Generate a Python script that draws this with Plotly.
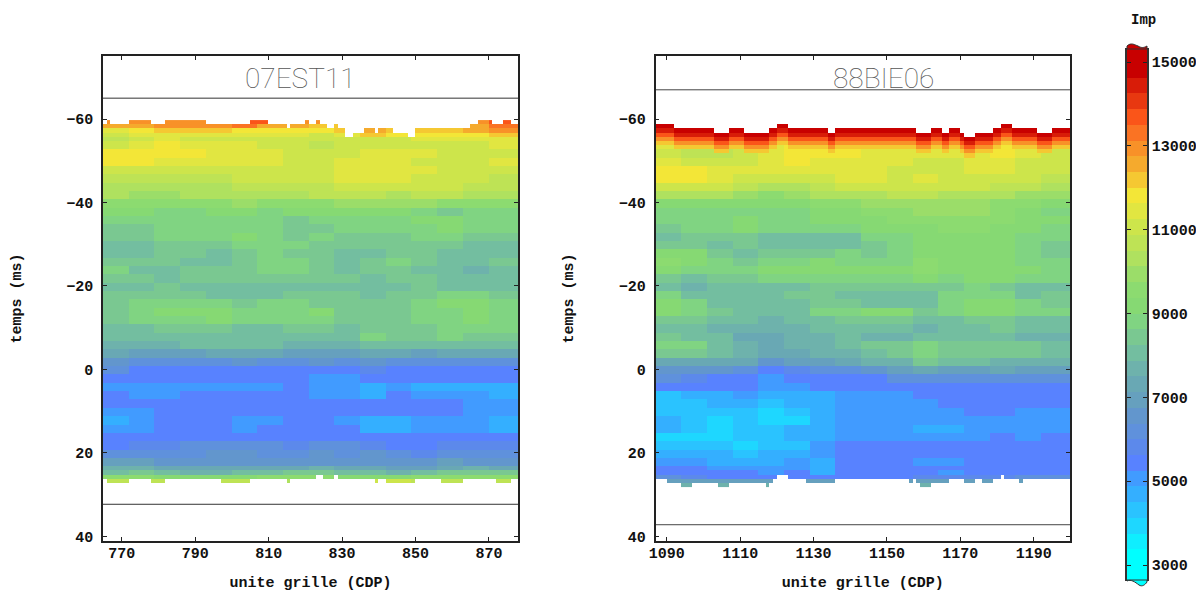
import numpy as np
import plotly.graph_objects as go

W, H = 1196, 592

# Colour bands of the Imp scale (3000..15000, 32 bands)
BAND_COLORS = [
    (0,255,255),(15,238,255),(30,215,255),(42,195,255),(52,175,255),(65,155,255),(88,130,255),
    (92,137,235),(95,145,220),(98,150,205),(102,160,190),(105,168,180),(110,178,172),(115,190,160),
    (122,200,145),(128,212,130),(134,217,115),(140,219,112),(155,221,105),(175,225,95),(190,227,85),
    (205,229,75),(225,230,65),(243,230,55),(245,200,50),(245,170,45),(248,145,40),(250,115,35),
    (250,85,25),(232,56,16),(216,28,8),(200,0,0)]
Z_MIN, Z_MAX = 3000, 15000
CBAR_TICKS = [3000, 5000, 7000, 9000, 11000, 13000, 15000]

# Imp / 100, one list per block row, 16 blocks across the section
IMP_07EST11 = [
 [130,128,130,130,130,136,136,128,128,128,128,128,128,128,130,138],
 [124,124,128,128,130,134,124,126,122,122,122,126,124,124,126,134],
 [116,118,120,120,120,118,118,118,119,120,126,123,121,121,124,128],
 [110,114,116,116,114,114,114,114,112,114,123,118,118,117,118,122],
 [108,110,113,112,112,112,112,112,110,110,112,112,114,114,116,116],
 [110,114,117,116,114,114,112,110,106,110,112,112,112,112,112,114],
 [118,118,118,118,116,114,113,112,110,112,113,113,113,112,112,112],
 [119,118,116,116,115,114,114,112,112,114,114,114,112,112,112,113],
 [112,110,110,110,110,112,112,112,112,114,116,116,114,112,111,112],
 [106,106,105,106,107,110,110,112,110,113,114,114,112,112,110,108],
 [103,102,102,102,104,106,107,108,108,110,110,110,111,111,106,105],
 [102,100,100,102,102,103,103,104,105,106,106,104,106,106,104,102],
 [96,94,95,96,97,98,95,97,97,98,100,100,99,96,96,95],
 [90,90,88,88,90,90,88,90,90,92,90,90,88,86,88,88],
 [87,88,88,87,89,87,87,85,88,88,89,88,91,91,89,87],
 [85,85,87,87,88,89,87,83,85,87,87,87,89,91,89,87],
 [83,85,87,87,89,91,87,83,87,85,85,85,87,87,85,83],
 [81,81,85,85,85,87,87,87,85,83,83,85,85,83,81,79],
 [79,81,85,83,81,85,87,85,83,79,81,85,85,81,79,81],
 [83,83,83,81,79,83,87,87,85,79,83,87,85,79,81,83],
 [87,81,79,83,85,85,87,87,85,81,83,83,81,79,77,81],
 [83,83,81,85,83,85,85,85,83,83,81,83,83,79,79,79],
 [79,81,83,81,81,79,79,81,81,81,79,81,83,81,79,81],
 [83,83,83,83,81,79,79,83,83,83,81,83,83,87,87,83],
 [85,87,89,89,87,85,87,87,85,83,83,83,87,91,91,87],
 [85,89,92,92,92,87,87,89,91,85,83,85,87,89,91,89],
 [85,87,89,89,91,87,87,87,87,83,85,85,87,89,92,89],
 [81,81,83,83,83,81,81,83,83,81,83,83,85,87,89,87],
 [79,79,81,81,79,79,79,79,81,79,87,83,85,87,85,85],
 [77,77,77,79,79,79,79,77,77,77,79,79,79,81,81,81],
 [72,70,70,70,72,74,72,70,70,70,72,72,70,72,72,72],
 [66,62,62,62,62,64,62,62,66,62,64,62,60,60,60,62],
 [60,56,56,56,56,56,56,56,56,56,58,56,56,56,56,56],
 [54,54,54,54,54,54,54,54,50,50,54,54,54,54,54,54],
 [50,50,50,50,50,50,50,54,50,50,47,50,47,46,47,46],
 [54,50,50,54,54,54,54,54,50,50,48,54,50,50,50,48],
 [54,54,54,54,54,54,56,54,54,54,54,54,54,54,50,50],
 [50,50,54,54,54,54,54,54,54,54,54,54,54,54,50,50],
 [48,50,54,54,54,50,50,54,54,50,47,48,50,50,50,47],
 [50,50,54,54,54,50,54,54,54,54,48,48,50,50,50,48],
 [54,54,54,56,56,54,54,54,56,54,54,54,54,54,54,54],
 [56,58,58,60,60,60,60,58,60,60,58,56,56,58,58,58],
 [62,62,62,62,64,64,62,62,66,62,64,62,58,62,62,62],
 [68,68,66,66,65,66,66,66,66,66,66,64,64,68,66,66],
 [76,78,72,72,72,72,74,74,76,72,72,70,70,74,76,74],
 [82,84,80,78,76,80,82,84,84,80,80,78,80,84,84,84],
 [96,94,92,92,90,92,94,94,94,92,92,92,94,96,96,96],
 [108,108,108,108,108,108,104,104,104,104,112,112,108,108,108,108],
 [104,104,104,104,104,104,104,104,104,104,104,104,104,104,104,104],
]
IMP_88BIE06 = [
 [115]*16,[115]*16,[115]*16,[115]*16,[115]*16,
 [116,110,110,114,116,118,118,118,118,118,118,118,118,118,116,116],
 [112,106,106,112,114,118,118,118,116,116,116,116,116,118,114,112],
 [116,110,110,112,114,118,114,116,116,114,112,112,116,116,112,110],
 [118,118,114,114,114,114,114,114,114,112,112,112,114,114,112,110],
 [118,118,114,112,110,110,112,114,114,112,114,110,112,112,110,108],
 [112,112,112,108,104,104,108,110,110,110,112,110,110,108,106,104],
 [104,102,102,100,96,100,104,104,104,108,106,104,104,102,100,98],
 [92,92,92,92,90,92,94,96,98,100,100,100,100,96,94,92],
 [88,88,88,88,88,88,90,92,94,96,98,98,98,94,90,88],
 [87,89,89,90,89,89,90,90,92,94,96,97,96,94,92,90],
 [83,87,87,90,87,89,89,89,90,90,92,94,96,92,90,89],
 [81,83,83,85,81,79,81,81,87,87,90,92,92,90,89,87],
 [85,83,81,83,79,81,79,81,85,87,90,92,92,90,87,83],
 [93,90,85,81,83,85,85,87,85,87,90,92,92,90,87,83],
 [95,90,87,85,87,89,90,89,87,87,95,92,90,90,89,87],
 [92,89,87,89,92,93,93,92,90,90,95,93,93,92,90,89],
 [83,81,83,83,87,89,89,89,89,89,90,89,90,90,87,87],
 [79,77,79,79,81,81,83,83,85,85,85,85,87,85,81,79],
 [87,81,79,79,79,83,83,81,81,81,81,87,89,87,81,83],
 [93,89,81,79,79,81,83,83,81,81,81,89,92,92,87,83],
 [92,89,83,81,79,81,87,87,90,90,85,89,92,93,89,87],
 [85,83,81,79,77,79,81,83,85,85,81,81,83,85,81,81],
 [81,79,77,75,75,77,79,79,81,79,77,79,81,83,79,81],
 [83,81,79,73,73,75,77,79,77,77,81,79,79,81,77,77],
 [89,87,81,75,73,75,77,81,83,83,87,85,83,83,83,81],
 [84,86,80,76,74,74,76,78,82,84,88,84,84,84,84,82],
 [74,72,72,72,66,68,70,72,76,78,84,80,80,78,78,78],
 [66,64,64,62,56,58,60,62,66,68,74,70,70,72,70,70],
 [60,58,56,54,50,54,56,56,56,60,62,60,60,60,60,60],
 [54,54,54,54,50,50,54,54,54,54,56,56,56,56,56,56],
 [44,46,48,50,46,47,46,50,50,50,54,54,54,54,54,54],
 [42,44,46,46,44,47,47,50,50,50,50,54,54,54,54,54],
 [42,42,42,44,40,42,48,50,50,50,50,50,54,54,50,50],
 [48,42,40,42,38,40,48,50,50,50,50,50,50,50,50,50],
 [46,42,40,42,44,46,48,50,50,50,46,46,50,50,50,50],
 [40,38,40,42,44,46,47,50,50,52,50,50,50,54,52,54],
 [42,42,42,38,42,44,50,54,54,54,54,54,54,54,54,54],
 [48,48,46,44,46,48,50,54,54,54,54,54,56,54,54,54],
 [52,50,48,48,46,50,48,54,54,54,50,50,54,54,54,54],
 [54,54,50,50,50,50,46,54,54,54,54,54,54,54,54,54],
 [54,54,54,54,50,54,48,54,54,54,54,50,54,56,54,56],
 [62,58,54,54,54,54,54,54,54,56,58,58,58,58,60,60],
 [70]*16,
 [78]*16,
]

# Row (ms) of the first and the last filled cell, for each of the 113 CDP
TOP_07EST11 = ([-58]+[-59]+[-58]*5+[-59]*6+[-58]*4+[-59]*11+[-58]*12+[-59]*5+[-58]*5+[-57]+[-58]*4+[-59]
               +[-58]*2+[-59]+[-58]*2+[-57]*2+[-58]+[-57]*2+[-55]*2+[-56]*3+[-57]*3+[-56]+[-57]*4+[-56]*4
               +[-55]*2+[-57]*15+[-58]*2+[-59]*4+[-58]*3+[-59]*2+[-58]*2)
BOTTOM_07EST11 = ([26]+[27]*6+[26]*6+[27]*4+[26]*15+[27]*8+[26]*10+[27]+[26]*7+[25]*2+[26]*3+[25]+[26]*10
                  +[27]+[26]*2+[27]*8+[26]*7+[27]*6+[26]*9+[27]*4+[26]*2)
TOP_88BIE06 = ([-58]*5+[-57]*11+[-56]*4+[-57]*4+[-56]*7+[-57]*2+[-58]*3+[-57]*11+[-56]*2+[-57]*22+[-56]*4
               +[-57]*3+[-56]*2+[-57]*3+[-56]+[-55]*3+[-56]*5+[-57]*2+[-58]*3+[-57]*7+[-56]*4+[-57]*5)
BOTTOM_88BIE06 = ([26]*3+[27]*4+[28]*3+[27]*7+[28]*3+[27]*10+[28]+[27]+[26]+[25]*3+[26]*5+[27]*8+[26]*20
                  +[27]+[26]+[27]+[28]*3+[27]*5+[26]*4+[27]*3+[26]*2+[27]*3+[26]*2+[25]+[26]*4+[27]+[26]*13)
# Imp / 100 just under the top edge of 88BIE06, by depth in ms
CAP_88BIE06 = [150, 144, 137, 130, 123]

CDP_START_1, CDP_START_2 = 765.4, 1087.4
X_RANGE_1, X_RANGE_2 = [764.9, 877.9], [1086.9, 1199.9]
Y_RANGE = [41.1, -75.1]
X_TICKS_1 = [770, 790, 810, 830, 850, 870]
X_TICKS_2 = [1090, 1110, 1130, 1150, 1170, 1190]
Y_TICKS = [-60, -40, -20, 0, 20, 40]
Y_LABELS = ["\u221260", "\u221240", "\u221220", "0", "20", "40"]
LINES_1, LINES_2 = [-65, 32.3], [-67, 37.2]

def section(rows, top, bottom, cap, start):
    assert len(top) == 113 and len(bottom) == 113
    m = np.array(rows, float) * 100
    t = -59.25 + np.arange(88)
    lows = np.array([-59.75, -58.75, -57.75, -56.75, -55.75] + [-54.75 + 2 * i for i in range(39)]
                    + [23.25, 24.25, 25.25, 26.25, 27.25])
    z = np.full((88, 113), np.nan)
    for c in range(113):
        b = min(c // 7, 15)
        for j, tt in enumerate(t):
            if tt < top[c] - 0.3 or tt > bottom[c]:
                continue
            r = np.searchsorted(lows, tt) - 1
            v = m[r, b]
            d = int(round(tt - (top[c] - 0.25)))
            if d < len(cap):
                v = max(v, cap[d] * 100)
            z[j, c] = v
    xe = start - 0.5 + np.arange(114)
    ye = -59.75 + np.arange(89)
    return xe, ye, z

colorscale = []
for k, c in enumerate(BAND_COLORS):
    s = f"rgb{c}"
    colorscale += [[k / 32, s], [(k + 1) / 32, s]]

MONO = "Liberation Mono"
def dom_x(a, b): return [a / W, b / W]
def dom_y(top, bot): return [1 - bot / H, 1 - top / H]

fig = go.Figure()
for rows, top, bot, cap, st, xa, ya in [
    (IMP_07EST11, TOP_07EST11, BOTTOM_07EST11, [], CDP_START_1, "x", "y"),
    (IMP_88BIE06, TOP_88BIE06, BOTTOM_88BIE06, CAP_88BIE06, CDP_START_2, "x2", "y2"),
]:
    xe, ye, z = section(rows, top, bot, cap, st)
    fig.add_trace(go.Heatmap(x=xe, y=ye, z=z, zmin=Z_MIN, zmax=Z_MAX, colorscale=colorscale,
                             showscale=False, xaxis=xa, yaxis=ya, hoverongaps=False))

for rng, vals, xa, ya, col in [(X_RANGE_1, LINES_1, "x", "y", "#333"), (X_RANGE_2, LINES_2, "x2", "y2", "#444")]:
    for v in vals:
        fig.add_trace(go.Scatter(x=rng, y=[v, v], mode="lines", line=dict(color=col, width=1),
                                 xaxis=xa, yaxis=ya, showlegend=False, hoverinfo="skip"))

# Colour bar, as its own small axis pair
step = (Z_MAX - Z_MIN) / 32
cb_edges = [2620] + [Z_MIN + step * k for k in range(1, 32)] + [15334]
cb_z = [[Z_MIN + step * (k + 0.5)] for k in range(32)]
fig.add_trace(go.Heatmap(x=[0, 1], y=cb_edges, z=cb_z, zmin=Z_MIN, zmax=Z_MAX, colorscale=colorscale,
                         showscale=False, xaxis="x3", yaxis="y3", hoverinfo="skip"))

tick = dict(family=MONO, size=15, color="#111", weight="bold")
axis = dict(showgrid=False, zeroline=False, showline=True, linecolor="#222", linewidth=1.5, mirror="ticks",
            ticks="inside", ticklen=4, tickcolor="#222", tickwidth=1, tickfont=tick, automargin=False)
title_font = dict(family=MONO, size=15, color="#111", weight="bold")
def xax(dom, rng, ticks):
    return dict(axis, domain=dom, range=rng, tickvals=ticks, ticktext=[str(v) for v in ticks], ticklabelstandoff=-3,
                title=dict(text="unite grille (CDP)", font=title_font, standoff=20))
def yax(dom, anchor, standoff):
    return dict(axis, domain=dom, range=Y_RANGE, tickvals=Y_TICKS, ticktext=Y_LABELS, anchor=anchor, ticklabelstandoff=5,
                title=dict(text="temps (ms)", font=title_font, standoff=standoff))

fig.update_layout(
    width=W, height=H, autosize=False, margin=dict(l=0, r=0, t=0, b=0),
    paper_bgcolor="white", plot_bgcolor="white", showlegend=False,
    xaxis=dict(xax(dom_x(103, 518), X_RANGE_1, X_TICKS_1), anchor="y"),
    yaxis=yax(dom_y(56, 541), "x", 41),
    xaxis2=dict(xax(dom_x(655.5, 1070), X_RANGE_2, X_TICKS_2), anchor="y2"),
    yaxis2=yax(dom_y(56, 541), "x2", 41),
    xaxis3=dict(domain=dom_x(1127, 1147), range=[0, 1], anchor="y3", showticklabels=False, ticks="",
                showgrid=False, zeroline=False, showline=False, automargin=False),
    yaxis3=dict(domain=dom_y(48, 581), range=[2620, 15334], anchor="x3", side="right", showgrid=False, zeroline=False,
                showline=True, linecolor="#333", linewidth=1.5, mirror="ticks", ticks="inside", ticklen=4,
                tickcolor="#222", tickwidth=1, tickvals=CBAR_TICKS, ticktext=[str(v) for v in CBAR_TICKS],
                tickfont=tick, automargin=False),
    annotations=[
        dict(text="07EST11", x=300 / W, y=1 - 78 / H, xref="paper", yref="paper", showarrow=False, xanchor="center",
             yanchor="middle", font=dict(family="Roboto", size=28, color="#555", weight=100)),
        dict(text="88BIE06", x=884 / W, y=1 - 78 / H, xref="paper", yref="paper", showarrow=False, xanchor="center",
             yanchor="middle", font=dict(family="Roboto", size=28, color="#555", weight=100)),
        dict(text="Imp", x=1143 / W, y=1 - 20 / H, xref="paper", yref="paper", showarrow=False, xanchor="center",
             yanchor="middle", font=dict(family=MONO, size=14, color="#111", weight="bold")),
    ],
)

def P(x, y): return f"{x / W:.5f},{1 - y / H:.5f}"
top_path = f"M{P(1127,49)} L{P(1127,46)} C{P(1131,42)} {P(1135,45)} {P(1138,46)} C{P(1141,48)} {P(1144,48)} {P(1147,46)} L{P(1147,49)} Z"
bot_path = f"M{P(1127,580)} L{P(1127,581)} C{P(1131,579)} {P(1135,582)} {P(1139,585)} C{P(1142,587)} {P(1145,585)} {P(1147,582)} L{P(1147,580)} Z"
fig.update_layout(shapes=[
    dict(type="path", path=top_path, xref="paper", yref="paper", fillcolor="rgb(200,0,0)", line=dict(color="#333", width=1)),
    dict(type="path", path=bot_path, xref="paper", yref="paper", fillcolor="rgb(0,255,255)", line=dict(color="#333", width=1)),
])

fig.write_html("out.html", config={"displayModeBar": False},
               post_script="document.body.style.margin='0';document.documentElement.style.overflow='hidden';")
